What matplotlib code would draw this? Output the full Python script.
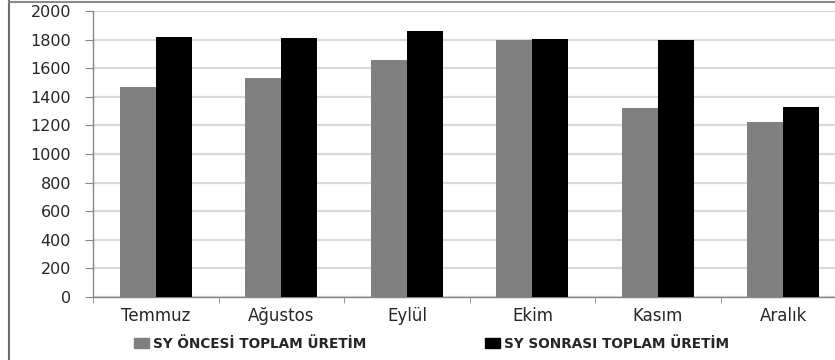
import numpy as np
from matplotlib import pyplot as plt
from matplotlib import patches as mpatch
from matplotlib.lines import Line2D

# Données
months = ['Temmuz', 'Ağustos', 'Eylül', 'Ekim', 'Kasım', 'Aralık']
before = [1470, 1530, 1660, 1800, 1320, 1225]
after = [1820, 1810, 1860, 1805, 1795, 1330]
series_names = ['SY ÖNCESİ TOPLAM ÜRETİM', 'SY SONRASI TOPLAM ÜRETİM']
yticks = [0, 200, 400, 600, 800, 1000, 1200, 1400, 1600, 1800, 2000]

GRAY = '#808080'
GRID = '#d9d9d9'
AXIS = '#868686'
TEXT = '#262626'

fig = plt.figure(figsize=(8.35, 3.6), dpi=100)
# la zone de tracé dépasse à droite : l'image d'origine est rognée
ax = fig.add_axes([93.3 / 835, 1 - 297 / 360, (846 - 93.3) / 835, (297 - 11) / 360])

x = np.arange(len(months))
w = 0.287
ax.bar(x - w / 2, before, w, color=GRAY, zorder=3, label=series_names[0])
ax.bar(x + w / 2, after, w, color='black', zorder=3, label=series_names[1])

ax.set_xlim(-0.5, len(months) - 0.5)
ax.set_ylim(0, 2000)
ax.set_yticks(yticks)
ax.yaxis.grid(True, color=GRID, linewidth=1.6, zorder=0)
ax.set_axisbelow(True)

for s in ['top', 'right']:
    ax.spines[s].set_visible(False)
for s in ['left', 'bottom']:
    ax.spines[s].set_color(AXIS)
    ax.spines[s].set_linewidth(1.0)

ax.tick_params(axis='y', length=6, color=AXIS, pad=10, labelsize=11.5, labelcolor=TEXT)
ax.set_xticks(x)
ax.set_xticklabels(months)
ax.set_xticks(np.arange(-0.5, len(months)), minor=True)
ax.tick_params(axis='x', which='major', length=0, pad=7, labelsize=12, labelcolor=TEXT)
ax.tick_params(axis='x', which='minor', length=4, color=AXIS)

# Légende en bas, deux entrées
handles = [mpatch.Patch(color=GRAY), mpatch.Patch(color='black')]
fig.legend(handles, series_names, loc='center', bbox_to_anchor=(0.517, 1 - 344 / 360),
           ncol=2, frameon=False, handlelength=1.1, handleheight=0.7, handletextpad=0.3,
           columnspacing=8.7, prop={'size': 9.8, 'weight': 'bold'}, labelcolor=TEXT)

# cadre du graphique (gauche et haut)
fig.add_artist(Line2D([8.5 / 835, 8.5 / 835], [0, 1], color='#6e6e6e', linewidth=1.5))
fig.add_artist(Line2D([8.5 / 835, 1], [1 - 1.5 / 360, 1 - 1.5 / 360], color='#8a8a8a', linewidth=1.5))

fig.savefig('out.png', dpi=100)
